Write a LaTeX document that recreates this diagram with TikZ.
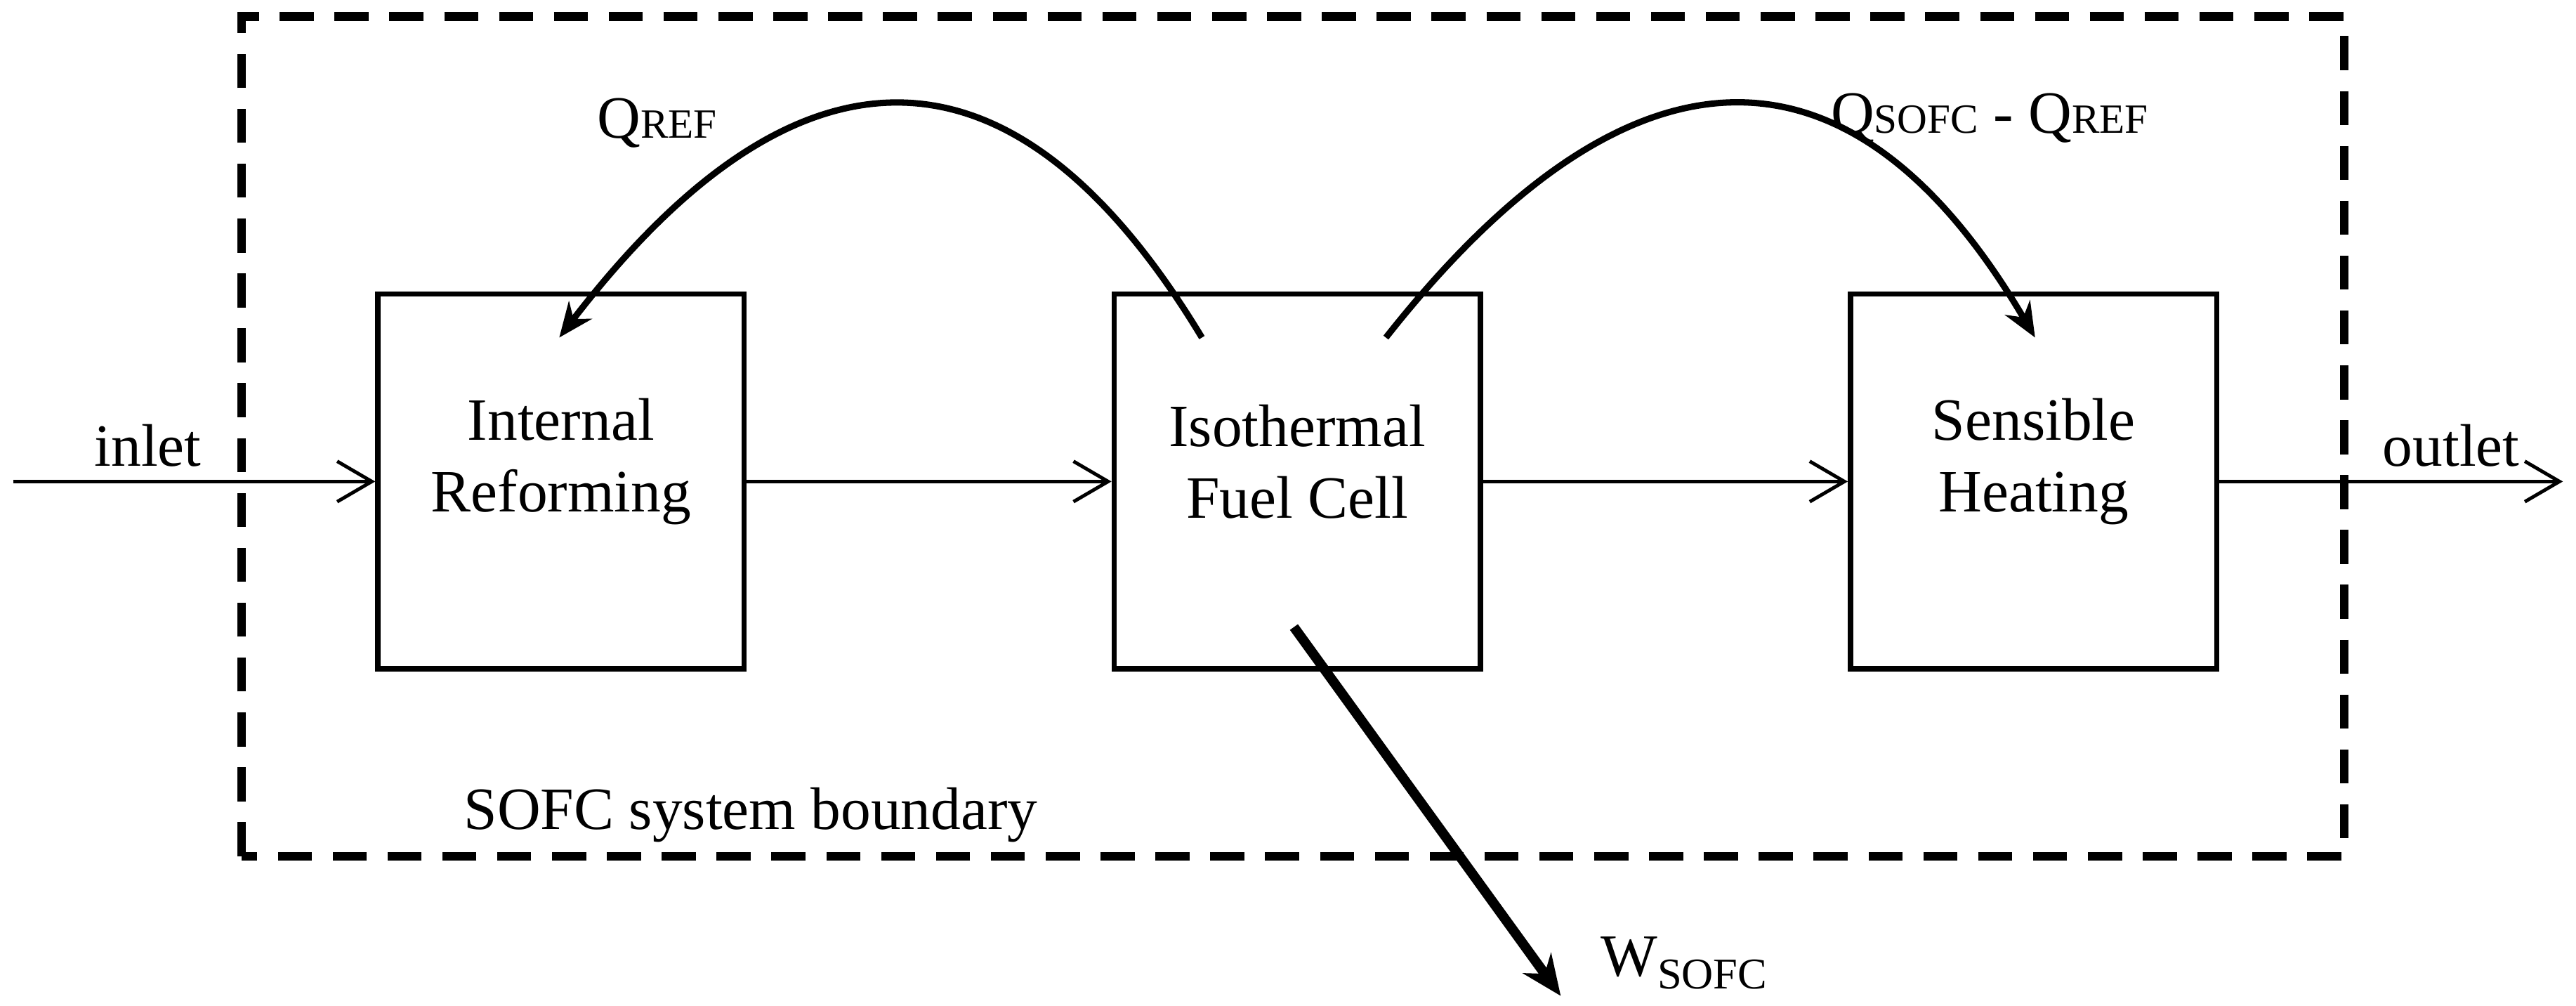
\documentclass[tikz,border=0pt]{standalone}
\usepackage{fontspec}
\setmainfont{Liberation Serif}
\usetikzlibrary{arrows.meta,positioning}
\newcommand{\lowsub}[1]{{\fontsize{7.2}{7.2}\selectfont #1}}
\newcommand{\dropsub}[1]{\raisebox{-0.45ex}{\fontsize{7.6}{7.6}\selectfont #1}}

\begin{document}
\begin{tikzpicture}[font=\fontsize{10.4}{12.4}\selectfont,
		block/.style={draw, line width=0.9pt, minimum width=2.23cm, minimum height=2.28cm},
		blocktext/.style={label={[align=center, yshift=1.2mm]center:#1}},
		flow/.style={line width=0.6pt, -{Straight Barb[length=6pt, width=7pt]}},
		heatflow/.style={line width=1.1pt, -{Stealth[length=6pt, width=5pt]}},
		work/.style={line width=1.7pt, -{Stealth[length=7pt, width=6pt]}}]
		\useasboundingbox (0, 0) rectangle (15.68, 6.12);
		\draw [line width=1.5pt, dash pattern=on 5.9pt off 3.6pt] (1.47, 0.91) rectangle (14.27, 6.02);
		\node at (4.57, 1.16) {SOFC system boundary};
		\node [block, blocktext={Internal\\Reforming}] (reform) at (3.415, 3.19) {};
		\node [block, blocktext={Isothermal\\Fuel Cell}, right=2.22cm of reform] (cell) {};
		\node [block, blocktext={Sensible\\Heating}, right=2.22cm of cell] (sens) {};
		\coordinate (in) at (0.08, 3.19);
		\coordinate (out) at (15.60, 3.19);
		\draw [flow] (in) -- (reform.west);
		\draw [flow] (reform.east) -- (cell.west);
		\draw [flow] (cell.east) -- (sens.west);
		\draw [flow] (sens.east) -- (out);
		\node at (0.90, 3.41) {inlet};
		\node at (14.92, 3.41) {outlet};
		% heat to the reformer and to the sensible heating
		\coordinate (qref) at ([shift={(0.55, -0.28)}]cell.north west);
		\coordinate (qrefend) at ([shift={(1.12, -0.28)}]reform.north west);
		\coordinate (qrest) at ([shift={(1.67, -0.28)}]cell.north west);
		\coordinate (qrestend) at ([shift={(1.14, -0.28)}]sens.north west);
		\draw [heatflow] (qref) .. controls +(-1.14, 1.89) and +(1.45, 1.89) .. (qrefend);
		\draw [heatflow] (qrest) .. controls +(1.49, 1.89) and +(-1.11, 1.89) .. (qrestend);
		\node at (4.00, 5.37) {Q\lowsub{REF}};
		\node at (12.11, 5.40) {Q\lowsub{SOFC} - Q\lowsub{REF}};
		% electric work
		\coordinate (wstart) at ([shift={(1.11, 0.27)}]cell.south west);
		\coordinate (wend) at (9.50, 0.06);
		\draw [work] (wstart) -- (wend);
		\node at (10.25, 0.26) {W\dropsub{SOFC}};
	\end{tikzpicture}
\end{document}
